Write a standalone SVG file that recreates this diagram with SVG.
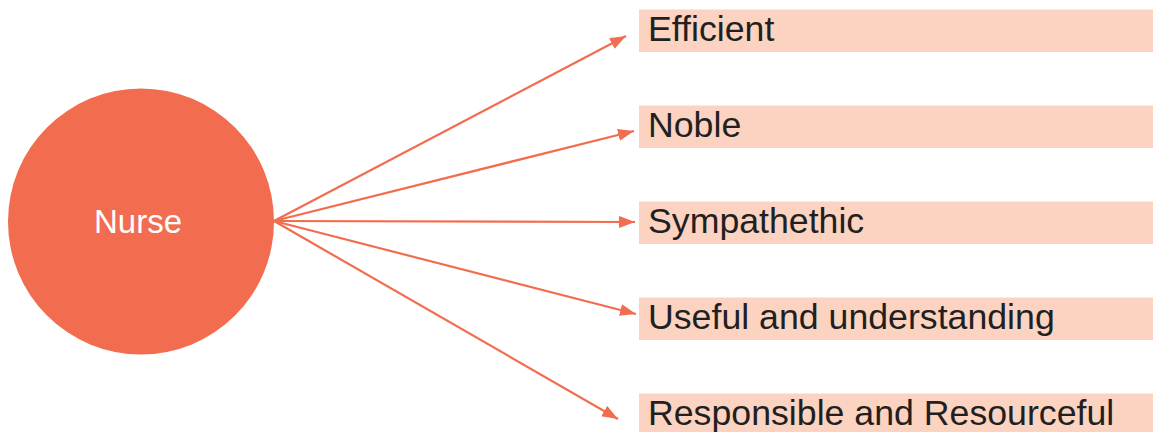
<svg xmlns="http://www.w3.org/2000/svg" width="1153" height="432" viewBox="0 0 1153 432">
<style>
.box{fill:#fcd3c1}
.lbl{font-family:"Liberation Sans",Arial,sans-serif;font-size:35.7px;fill:#231f20}
.conn{stroke:#f26d4f;stroke-width:2.2;fill:none}
</style>
<defs>
<marker id="ah" markerUnits="userSpaceOnUse" markerWidth="18" markerHeight="14" refX="16" refY="6" orient="auto">
<path d="M0,0 L16,6 L0,12 Z" fill="#f26d4f"/>
</marker>
</defs>
<rect width="1153" height="432" fill="#ffffff"/>
<g id="nurse">
<circle cx="141" cy="221.5" r="133" fill="#f26d4f"/>
<text x="138" y="232.5" text-anchor="middle" font-family="Liberation Sans, Arial, sans-serif" font-size="33" fill="#ffffff">Nurse</text>
</g>
<g id="connectors">
<line class="conn" x1="274" y1="221" x2="626" y2="36" marker-end="url(#ah)"/>
<line class="conn" x1="274" y1="221" x2="634" y2="131" marker-end="url(#ah)"/>
<line class="conn" x1="274" y1="221" x2="635" y2="222" marker-end="url(#ah)"/>
<line class="conn" x1="274" y1="221" x2="636" y2="314" marker-end="url(#ah)"/>
<line class="conn" x1="274" y1="221" x2="618" y2="419" marker-end="url(#ah)"/>
</g>
<g id="efficient">
<rect class="box" x="639" y="9.5" width="514" height="42.5"/>
<text class="lbl" x="648" y="41.2">Efficient</text>
</g>
<g id="noble">
<rect class="box" x="639" y="105.5" width="514" height="42.5"/>
<text class="lbl" x="648" y="137.2">Noble</text>
</g>
<g id="sympathethic">
<rect class="box" x="639" y="201.5" width="514" height="42.5"/>
<text class="lbl" x="648" y="233.2">Sympathethic</text>
</g>
<g id="useful">
<rect class="box" x="639" y="297.5" width="514" height="42.5"/>
<text class="lbl" x="648" y="329.2">Useful and understanding</text>
</g>
<g id="responsible">
<rect class="box" x="639" y="393.5" width="514" height="42.5"/>
<text class="lbl" x="648" y="425.2">Responsible and Resourceful</text>
</g>
</svg>
